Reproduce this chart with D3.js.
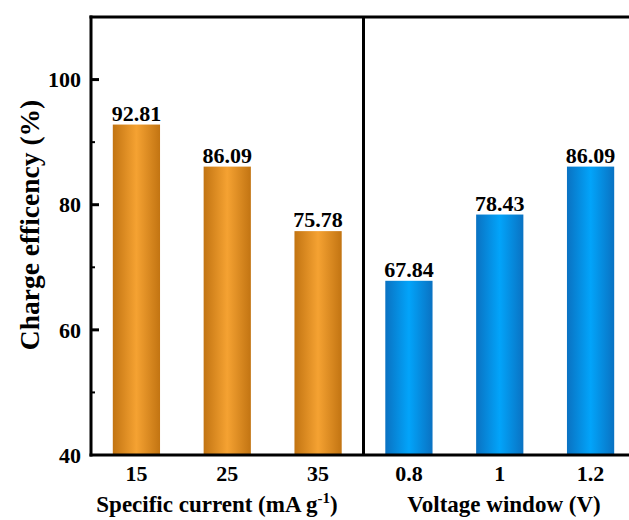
<!DOCTYPE html>
<html>
<head>
<meta charset="utf-8">
<script src="https://cdn.jsdelivr.net/npm/d3@7/dist/d3.min.js"></script>
<style>
  html, body { margin: 0; padding: 0; background: #fff; }
  svg { display: block; font-family: "Liberation Serif", "Times New Roman", serif; font-weight: bold; }
</style>
</head>
<body>
<svg id="chart" width="629" height="520"></svg>
<script>
// Charge efficiency under two test conditions
const currentLabels = ["15", "25", "35"];
const currentValues = [92.81, 86.09, 75.78];
const voltageLabels = ["0.8", "1", "1.2"];
const voltageValues = [67.84, 78.43, 86.09];
const yTicks = [40, 60, 80, 100];
const yMinorTicks = [50, 70, 90, 110];

const bars = currentLabels.map((c, i) => ({ key: "c" + c, label: c, value: currentValues[i], group: "current" }))
  .concat(voltageLabels.map((v, i) => ({ key: "v" + v, label: v, value: voltageValues[i], group: "voltage" })));

const svg = d3.select("#chart");
const plotLeft = 91, plotRight = 636, plotTop = 17, plotBottom = 455;

const x = d3.scaleBand().domain(bars.map(d => d.key)).range([plotLeft, plotRight])
  .paddingInner(0.48).paddingOuter(0.24);
const y = d3.scaleLinear().domain([40, 110]).range([plotBottom, plotTop]);

// Gradients give each bar a rounded, cylindrical look
const defs = svg.append("defs");
function grad(id, edge, mid) {
  const g = defs.append("linearGradient").attr("id", id).attr("x1", "0%").attr("x2", "100%");
  g.append("stop").attr("offset", "0%").attr("stop-color", edge);
  g.append("stop").attr("offset", "50%").attr("stop-color", mid);
  g.append("stop").attr("offset", "100%").attr("stop-color", edge);
}
grad("gCurrent", "#c27412", "#f5a232");
grad("gVoltage", "#0a72c2", "#02a4fa");

svg.append("g").selectAll("rect").data(bars).join("rect")
  .attr("x", d => x(d.key))
  .attr("width", x.bandwidth())
  .attr("y", d => y(d.value))
  .attr("height", d => y(40) - y(d.value))
  .attr("fill", d => d.group === "current" ? "url(#gCurrent)" : "url(#gVoltage)");

// Value labels
svg.append("g").selectAll("text").data(bars).join("text")
  .attr("x", d => x(d.key) + x.bandwidth() / 2)
  .attr("y", d => y(d.value) - 4)
  .attr("text-anchor", "middle")
  .attr("font-size", 22)
  .attr("fill", "#000")
  .text(d => d.value.toFixed(2));

// Frame: left axis, bottom axis, top border and group divider
const frame = svg.append("g").attr("stroke", "#000").attr("stroke-width", 3).attr("fill", "none");
frame.append("line").attr("x1", plotLeft).attr("x2", plotLeft).attr("y1", plotTop - 1.5).attr("y2", plotBottom + 1.5);
frame.append("line").attr("x1", plotLeft - 1.5).attr("x2", 629).attr("y1", plotBottom).attr("y2", plotBottom);
frame.append("line").attr("x1", plotLeft - 1.5).attr("x2", 629).attr("y1", plotTop).attr("y2", plotTop);
const divX = (x("c35") + x.bandwidth() + x("v0.8")) / 2;
frame.append("line").attr("x1", divX).attr("x2", divX).attr("y1", plotTop).attr("y2", plotBottom);

// Y axis ticks (inward) and labels
const yAxis = svg.append("g");
yAxis.selectAll("line.major").data(yTicks.filter(t => t > 40)).join("line")
  .attr("class", "major")
  .attr("x1", plotLeft).attr("x2", plotLeft + 8)
  .attr("y1", d => y(d)).attr("y2", d => y(d))
  .attr("stroke", "#000").attr("stroke-width", 3);
yAxis.selectAll("line.minor").data(yMinorTicks.filter(t => t < 110)).join("line")
  .attr("class", "minor")
  .attr("x1", plotLeft).attr("x2", plotLeft + 4)
  .attr("y1", d => y(d)).attr("y2", d => y(d))
  .attr("stroke", "#000").attr("stroke-width", 2);
yAxis.selectAll("text").data(yTicks).join("text")
  .attr("x", plotLeft - 10)
  .attr("y", d => y(d))
  .attr("dy", "0.35em")
  .attr("text-anchor", "end")
  .attr("font-size", 22)
  .text(d => d);

// X tick labels
svg.append("g").selectAll("text").data(bars).join("text")
  .attr("x", d => x(d.key) + x.bandwidth() / 2)
  .attr("y", 481)
  .attr("text-anchor", "middle")
  .attr("font-size", 22)
  .text(d => d.label);

// Axis titles
svg.append("text")
  .attr("transform", "translate(39,225) rotate(-90)")
  .attr("text-anchor", "middle")
  .attr("font-size", 27.5)
  .text("Charge efficency (%)");

const t1 = svg.append("text")
  .attr("x", 217)
  .attr("y", 512)
  .attr("text-anchor", "middle")
  .attr("font-size", 23);
t1.append("tspan").text("Specific current (mA g");
t1.append("tspan").attr("dy", -9).attr("font-size", 15).text("-1");
t1.append("tspan").attr("dy", 9).text(")");

svg.append("text")
  .attr("x", 504)
  .attr("y", 512)
  .attr("text-anchor", "middle")
  .attr("font-size", 23)
  .text("Voltage window (V)");
</script>
</body>
</html>
